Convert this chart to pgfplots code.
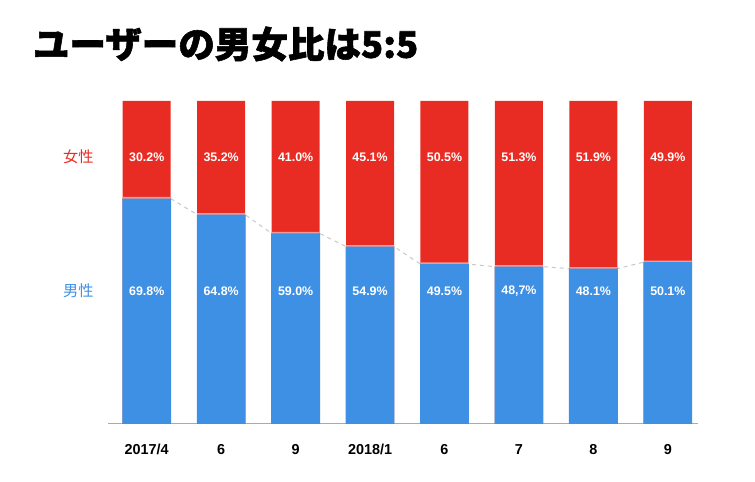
\documentclass[border=0pt]{standalone}
\usepackage{fontspec}
\setmainfont{Liberation Sans}
\newfontfamily\jp{Noto Sans CJK JP}
\newfontfamily\jptitle{Noto Sans CJK JP}[BoldFeatures={FakeBold=1.5}]
\usepackage{pgfplots}
\pgfplotsset{compat=1.18}
\definecolor{femred}{RGB}{233,44,35}
\definecolor{maleblue}{RGB}{61,144,228}
\definecolor{sepcol}{RGB}{240,155,150}
\begin{document}
\begin{tikzpicture}
\useasboundingbox (0,0) rectangle (566.25pt,360.75pt);
\node[anchor=west, inner sep=0pt] at (24.5pt,327.75pt) {\jptitle\bfseries\fontsize{27.4pt}{30pt}\selectfont ユーザーの男女比は5:5};
\begin{axis}[
  at={(81pt,42.75pt)}, anchor=south west,
  scale only axis, width=442.2pt, height=242.25pt,
  xmin=-0.52, xmax=7.40, ymin=0, ymax=100,
  axis x line*=bottom, axis y line*=left,
  x axis line style={draw={rgb,255:red,170;green,170;blue,170}, line width=0.75pt, -},
  y axis line style={draw=none, -},
  xtick={0,1,2,3,4,5,6,7},
  xticklabels={2017/4,6,9,2018/1,6,7,8,9},
  xtick style={draw=none}, ytick style={draw=none},
  xticklabel style={anchor=center, yshift=-19.2pt, font=\bfseries\fontsize{10.8pt}{12pt}\selectfont},
  ytick={41.2,82.76},
  yticklabels={{\color{maleblue}男性},{\color{femred}女性}},
  yticklabel style={anchor=east, inner sep=0pt, xshift=-10.7pt, font=\jp\fontsize{11.4pt}{13pt}\selectfont},
  clip=false,
]
% dashed connector between bar tops
\addplot[sharp plot, dashed, draw={rgb,255:red,200;green,200;blue,200}, line width=0.75pt, mark=none] coordinates {
 (-0.322,69.8) (0.322,69.8) (0.678,64.8) (1.322,64.8) (1.678,59.0) (2.322,59.0)
 (2.678,54.9) (3.322,54.9) (3.678,49.5) (4.322,49.5) (4.678,48.7) (5.322,48.7)
 (5.678,48.1) (6.322,48.1) (6.678,50.1) (7.322,50.1)};
% female (top, full 100%)
\addplot[ybar, bar width=36pt, bar shift=0pt, fill=femred, draw=none] coordinates {
 (0,100) (1,100) (2,100) (3,100) (4,100) (5,100) (6,100) (7,100)};
% separator
\addplot[ybar, bar width=36pt, bar shift=0pt, fill=sepcol, draw=none] coordinates {
 (0,70.3) (1,65.3) (2,59.5) (3,55.4) (4,50.0) (5,49.2) (6,48.6) (7,50.6)};
% male
\addplot[ybar, bar width=36.6pt, bar shift=0pt, fill=maleblue, draw=none] coordinates {
 (0,69.8) (1,64.8) (2,59.0) (3,54.9) (4,49.5) (5,48.7) (6,48.1) (7,50.1)};
% labels
\addplot[draw=none, mark=none, nodes near coords, point meta=explicit symbolic,
  nodes near coords align={center},
  every node near coord/.append style={text=white, font=\bfseries\fontsize{9.3pt}{11pt}\selectfont, inner sep=0pt}]
 coordinates {
 (0,82.66)[{30.2\%}] (1,82.66)[{35.2\%}] (2,82.66)[{41.0\%}] (3,82.66)[{45.1\%}]
 (4,82.66)[{50.5\%}] (5,82.66)[{51.3\%}] (6,82.66)[{51.9\%}] (7,82.66)[{49.9\%}]};
\addplot[draw=none, mark=none, nodes near coords, point meta=explicit symbolic,
  nodes near coords align={center},
  every node near coord/.append style={text=white, font=\bfseries\fontsize{9.3pt}{11pt}\selectfont, inner sep=0pt}]
 coordinates {
 (0,41.2)[{69.8\%}] (1,41.2)[{64.8\%}] (2,41.2)[{59.0\%}] (3,41.2)[{54.9\%}]
 (4,41.2)[{49.5\%}] (5,41.2)[{48,7\%}] (6,41.2)[{48.1\%}] (7,41.2)[{50.1\%}]};
\end{axis}
\end{tikzpicture}
\end{document}
